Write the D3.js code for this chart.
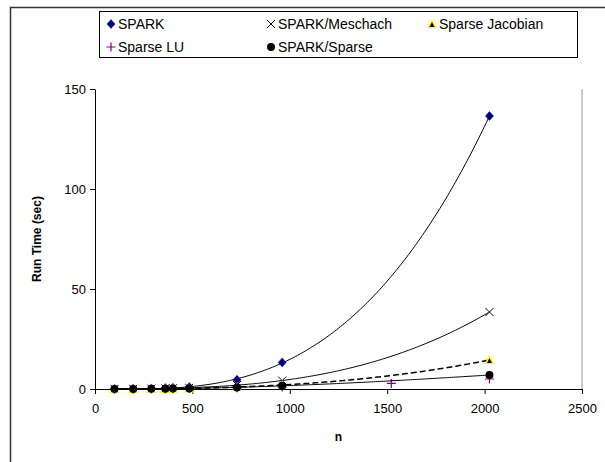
<!DOCTYPE html>
<html>
<head>
<meta charset="utf-8">
<script src="https://cdn.jsdelivr.net/npm/d3@7"></script>
<style>
  body { margin: 0; background: #fff; }
  text { font-family: "Liberation Sans", Arial, sans-serif; }
</style>
</head>
<body>
<svg id="chart" width="605" height="462"></svg>
<script>
// problem sizes (n) for the timed runs
var nValues = [100, 196, 289, 361, 400, 484, 729, 961, 2025];
var nLU = [100, 196, 289, 361, 400, 484, 729, 961, 1521, 2025];

var spark = [0.05, 0.15, 0.3, 0.5, 0.6, 1.0, 4.6, 13.3, 136.5];
var sparkMeschach = [0.03, 0.1, 0.2, 0.3, 0.4, 0.6, 2.0, 4.2, 38.5];
var sparseJacobian = [0.02, 0.05, 0.1, 0.15, 0.2, 0.3, 1.0, 2.0, 14.5];
var sparseLU = [0.01, 0.03, 0.06, 0.1, 0.12, 0.2, 0.6, 1.0, 2.8, 5.0];
var sparkSparse = [0.02, 0.05, 0.1, 0.15, 0.2, 0.3, 0.8, 1.6, 7.0];

var xTicks = [0, 500, 1000, 1500, 2000, 2500];
var yTicks = [0, 50, 100, 150];

var seriesNames = ['SPARK', 'SPARK/Meschach', 'Sparse Jacobian', 'Sparse LU', 'SPARK/Sparse'];

var svg = d3.select('#chart');

// outer chart frame (runs off the right/bottom edge)
svg.append('rect')
  .attr('x', 10.5).attr('y', 7.5)
  .attr('width', 620).attr('height', 470)
  .attr('fill', 'none').attr('stroke', '#333').attr('stroke-width', 1.5);

var plot = { left: 95, right: 582, top: 89, bottom: 389 };

var xScale = d3.scaleLinear().domain([0, 2500]).range([plot.left, plot.right]);
var yScale = d3.scaleLinear().domain([0, 150]).range([plot.bottom, plot.top]);

// plot area border, only the right edge shows
svg.append('line')
  .attr('x1', plot.right).attr('x2', plot.right)
  .attr('y1', plot.top).attr('y2', plot.bottom)
  .attr('stroke', '#999').attr('stroke-width', 1);

var fmt = d3.format('d');
var xAxis = svg.append('g')
  .attr('transform', 'translate(0,' + plot.bottom + ')')
  .call(d3.axisBottom(xScale).tickValues(xTicks).tickFormat(fmt).tickSize(5).tickSizeOuter(0));
var yAxis = svg.append('g')
  .attr('transform', 'translate(' + plot.left + ',0)')
  .call(d3.axisLeft(yScale).tickValues(yTicks).tickFormat(fmt).tickSize(5).tickSizeOuter(0));

[xAxis, yAxis].forEach(function(ax) {
  ax.select('.domain').attr('stroke', '#000');
  ax.selectAll('.tick line').attr('stroke', '#000');
  ax.selectAll('.tick text')
    .attr('fill', '#000')
    .style('font-family', '"Liberation Sans", Arial, sans-serif')
    .style('font-size', '13px');
});
xAxis.selectAll('.tick text').attr('dy', '1.2em');
yAxis.selectAll('.tick text').attr('x', -9);

svg.append('text')
  .attr('x', (plot.left + plot.right) / 2).attr('y', 441)
  .attr('text-anchor', 'middle')
  .style('font-size', '12px').style('font-weight', 'bold')
  .text('n');

svg.append('text')
  .attr('transform', 'translate(41,' + ((plot.top + plot.bottom) / 2) + ') rotate(-90)')
  .attr('text-anchor', 'middle')
  .style('font-size', '12px').style('font-weight', 'bold')
  .text('Run Time (sec)');

// least squares polynomial trendline (like the spreadsheet's "poly" trend)
function polyFit(xs, ys, degree) {
  var m = degree + 1;
  var A = [], b = [];
  for (var i = 0; i < m; i++) {
    A.push(new Array(m).fill(0));
    b.push(0);
  }
  xs.forEach(function(x, k) {
    var t = x / 1000;
    for (var i = 0; i < m; i++) {
      b[i] += ys[k] * Math.pow(t, i);
      for (var j = 0; j < m; j++) A[i][j] += Math.pow(t, i + j);
    }
  });
  // gaussian elimination
  for (var c = 0; c < m; c++) {
    var piv = c;
    for (var r = c + 1; r < m; r++) if (Math.abs(A[r][c]) > Math.abs(A[piv][c])) piv = r;
    var tmp = A[c]; A[c] = A[piv]; A[piv] = tmp;
    var tb = b[c]; b[c] = b[piv]; b[piv] = tb;
    for (var r2 = c + 1; r2 < m; r2++) {
      var f = A[r2][c] / A[c][c];
      for (var j2 = c; j2 < m; j2++) A[r2][j2] -= f * A[c][j2];
      b[r2] -= f * b[c];
    }
  }
  var coef = new Array(m).fill(0);
  for (var r3 = m - 1; r3 >= 0; r3--) {
    var s = b[r3];
    for (var j3 = r3 + 1; j3 < m; j3++) s -= A[r3][j3] * coef[j3];
    coef[r3] = s / A[r3][r3];
  }
  return function(x) {
    var t = x / 1000, v = 0;
    for (var i = 0; i < m; i++) v += coef[i] * Math.pow(t, i);
    return v;
  };
}

var line = d3.line()
  .x(function(d) { return xScale(d[0]); })
  .y(function(d) { return yScale(d[1]); });

function pairs(xs, ys) {
  return xs.map(function(x, i) { return [x, ys[i]]; });
}

var series = [
  { name: seriesNames[0], xs: nValues, ys: spark, marker: 'diamond', dash: null, trend: true },
  { name: seriesNames[1], xs: nValues, ys: sparkMeschach, marker: 'x', dash: null, trend: true },
  { name: seriesNames[2], xs: nValues, ys: sparseJacobian, marker: 'triangle', dash: '6,3', trend: true },
  { name: seriesNames[3], xs: nLU, ys: sparseLU, marker: 'plus', dash: null, trend: false },
  { name: seriesNames[4], xs: nValues, ys: sparkSparse, marker: 'circle', dash: null, trend: true }
];

function drawMarker(g, type, x, y) {
  if (type === 'diamond') {
    g.append('path')
      .attr('d', 'M' + x + ',' + (y - 4.5) + 'L' + (x + 4) + ',' + y + 'L' + x + ',' + (y + 4.5) + 'L' + (x - 4) + ',' + y + 'Z')
      .attr('fill', '#000080').attr('stroke', '#000080').attr('stroke-width', 0.5);
  } else if (type === 'x') {
    g.append('path')
      .attr('d', 'M' + (x - 4) + ',' + (y - 4) + 'L' + (x + 4) + ',' + (y + 4) + 'M' + (x + 4) + ',' + (y - 4) + 'L' + (x - 4) + ',' + (y + 4))
      .attr('stroke', '#000').attr('stroke-width', 1).attr('fill', 'none');
  } else if (type === 'triangle') {
    g.append('path')
      .attr('d', 'M' + x + ',' + (y - 5) + 'L' + (x + 5) + ',' + (y + 4) + 'L' + (x - 5) + ',' + (y + 4) + 'Z')
      .attr('fill', '#ffff00').attr('stroke', 'none');
    g.append('path')
      .attr('d', 'M' + x + ',' + (y - 2) + 'L' + (x + 2.5) + ',' + (y + 3) + 'L' + (x - 2.5) + ',' + (y + 3) + 'Z')
      .attr('fill', '#000');
  } else if (type === 'plus') {
    g.append('path')
      .attr('d', 'M' + (x - 4.5) + ',' + y + 'L' + (x + 4.5) + ',' + y + 'M' + x + ',' + (y - 4.5) + 'L' + x + ',' + (y + 4.5))
      .attr('stroke', '#800080').attr('stroke-width', 1.2).attr('fill', 'none');
  } else if (type === 'circle') {
    g.append('circle').attr('cx', x).attr('cy', y).attr('r', 4).attr('fill', '#000');
  }
}

series.forEach(function(s) {
  var g = svg.append('g');
  if (s.trend) {
    var fit = polyFit(s.xs, s.ys, 3);
    var lo = d3.min(s.xs), hi = d3.max(s.xs);
    var trendPts = d3.range(lo, hi + 1, 10).map(function(x) {
      return [x, Math.max(0, fit(x))];
    });
    g.append('path')
      .datum(trendPts)
      .attr('d', line)
      .attr('fill', 'none')
      .attr('stroke', '#000')
      .attr('stroke-width', s.dash ? 1.5 : 1)
      .attr('stroke-dasharray', s.dash);
  }
  pairs(s.xs, s.ys).forEach(function(p) {
    drawMarker(g, s.marker, xScale(p[0]), yScale(p[1]));
  });
});

// legend
var legend = svg.append('g');
legend.append('rect')
  .attr('x', 99.5).attr('y', 11.5).attr('width', 478).attr('height', 46)
  .attr('fill', '#fff').attr('stroke', '#000').attr('stroke-width', 1);

var legendPos = [[111, 24], [271, 24], [432, 24], [111, 47], [271, 47]];
series.forEach(function(s, i) {
  var pos = legendPos[i];
  drawMarker(legend, s.marker, pos[0], pos[1]);
  legend.append('text')
    .attr('x', pos[0] + 7).attr('y', pos[1] + 5)
    .style('font-size', '14px')
    .text(s.name);
});
</script>
</body>
</html>
